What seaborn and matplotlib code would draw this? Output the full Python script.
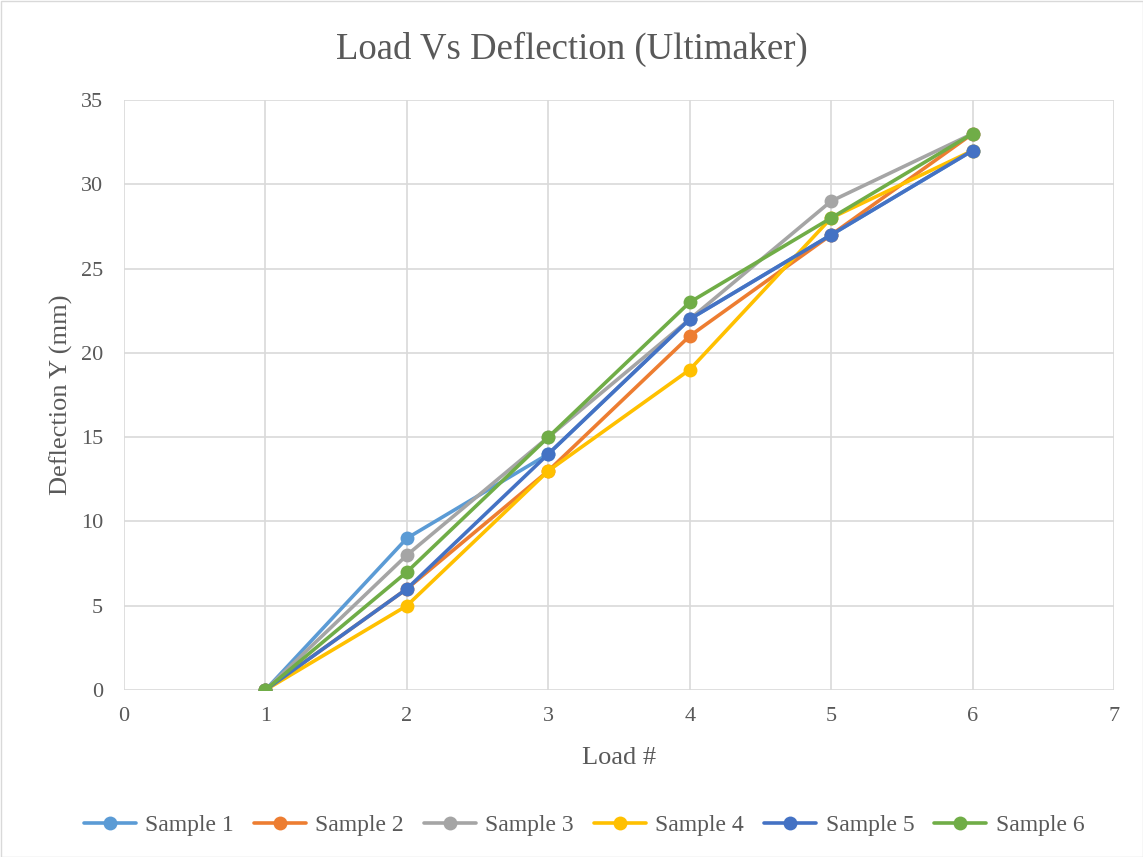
import matplotlib
matplotlib.use("Agg")
import matplotlib.pyplot as plt
import seaborn as sns
import pandas as pd

loads = [1, 2, 3, 4, 5, 6]
sample_1 = [0, 9, 14, 22, 27, 32]
sample_2 = [0, 6, 13, 21, 27, 33]
sample_3 = [0, 8, 15, 22, 29, 33]
sample_4 = [0, 5, 13, 19, 28, 32]
sample_5 = [0, 6, 14, 22, 27, 32]
sample_6 = [0, 7, 15, 23, 28, 33]
series_names = ["Sample 1", "Sample 2", "Sample 3", "Sample 4", "Sample 5", "Sample 6"]
colors = ["#5B9BD5", "#ED7D31", "#A5A5A5", "#FFC000", "#4472C4", "#70AD47"]

series = [sample_1, sample_2, sample_3, sample_4, sample_5, sample_6]
rows = []
for name, vals in zip(series_names, series):
    for x, y in zip(loads, vals):
        rows.append({"Load": x, "Deflection": y, "Sample": name})
df = pd.DataFrame(rows)

sns.set_theme(style="white")
plt.rcParams["font.family"] = ["Liberation Serif", "DejaVu Serif"]

fig = plt.figure(figsize=(11.43, 8.57), dpi=100)
ax = fig.add_axes([124 / 1143, 1 - 690 / 857, (1114 - 124) / 1143, (690 - 100) / 857])

sns.lineplot(data=df, x="Load", y="Deflection", hue="Sample", hue_order=series_names,
             palette=colors, marker="o", markersize=10, markeredgewidth=0,
             linewidth=2.6, ax=ax, legend=True)

ax.set_xlim(0, 7)
ax.set_ylim(0, 35)
ax.set_xticks(range(0, 8))
ax.set_yticks(range(0, 36, 5))
ax.grid(True, color="#D9D9D9", linewidth=1.2)
ax.set_axisbelow(True)
for s in ax.spines.values():
    s.set_visible(False)
ax.tick_params(axis="both", length=0, labelsize=16, labelcolor="#595959")
ax.tick_params(axis="y", pad=15)
ax.tick_params(axis="x", pad=12)

ax.set_xlabel("Load #", fontsize=19, color="#595959", labelpad=15)
ax.set_ylabel("Deflection Y (mm)", fontsize=19, color="#595959", labelpad=6)
fig.text(0.5, 1 - 49 / 857, "Load Vs Deflection (Ultimaker)", ha="center", va="center",
         fontsize=26.5, color="#595959")

handles, labels = ax.get_legend_handles_labels()
leg = ax.legend(handles, labels, loc="center", ncol=6, frameon=False, fontsize=17,
                handlelength=2.2, columnspacing=0.85, handletextpad=0.4, labelcolor="#595959")
leg.set_bbox_to_anchor((584 / 1143, 1 - 825 / 857), transform=fig.transFigure)

fig.patches.append(plt.Rectangle((0.5 / 1143, 0.5 / 857), 1 - 1 / 1143, 1 - 1 / 857,
                                 transform=fig.transFigure, fill=False,
                                 edgecolor="#D9D9D9", linewidth=1))

fig.savefig("out.png", dpi=100)
